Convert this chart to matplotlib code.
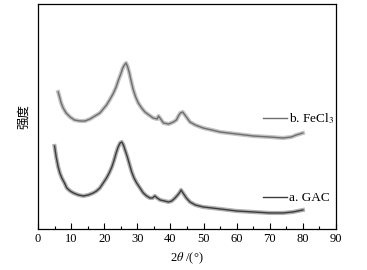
import matplotlib
matplotlib.use("Agg")
import matplotlib.pyplot as plt
from matplotlib.ticker import MultipleLocator

# intensities (arbitrary units, 0 = axis bottom)
two_theta_b = [6.1, 6.6, 7.0, 7.6, 8.5, 9.7, 11.0, 12.7, 14.2, 15.7, 17.2, 18.7, 19.7,
               20.7, 21.8, 22.8, 23.6, 24.3, 25.0, 25.6, 26.1, 26.6, 27.1, 27.6, 28.2,
               28.8, 29.5, 30.3, 31.3, 32.3, 33.5, 34.8, 36.0, 36.4, 37.9, 39.5, 40.9,
               41.8, 42.4, 43.0, 43.7, 44.6, 45.9, 47.5, 49.9, 52.5, 55.0, 57.5, 60.0,
               65.0, 70.0, 74.0, 76.5, 78.0, 80.0]
intensity_b = [137, 131, 126, 121, 116, 112, 109, 108, 108, 110, 113, 116, 120,
               124, 130, 136, 142, 149, 155, 161, 164, 166, 162, 156, 147,
               139, 132, 126, 121, 117, 114, 111, 110, 113, 106, 105, 107,
               109, 113, 116, 117, 113, 107, 104, 101, 99, 97, 96, 95,
               93, 92, 91, 92, 94, 96]

two_theta_a = [5.0, 5.5, 6.1, 6.6, 7.2, 8.0, 8.7, 9.7, 10.7, 12.2, 13.7, 15.2, 16.7,
               17.7, 18.7, 19.7, 20.7, 21.5, 22.3, 23.0, 23.6, 24.2, 24.8, 25.3, 25.8,
               26.4, 27.0, 27.6, 28.3, 29.0, 29.8, 30.8, 31.8, 32.8, 33.8, 34.6, 35.3,
               36.0, 36.9, 38.2, 39.4, 40.4, 41.4, 42.2, 42.9, 43.2, 43.8, 44.8, 45.9,
               47.5, 49.9, 52.5, 55.0, 57.5, 60.0, 65.0, 70.0, 74.0, 77.0, 80.0]
intensity_a = [83, 72, 62, 56, 51, 46, 41, 38, 36, 34, 33, 34, 36,
               38, 41, 46, 51, 56, 62, 69, 76, 82, 86, 87, 84,
               78, 72, 65, 57, 51, 46, 41, 36, 33, 31, 31, 33,
               31, 29, 28, 27, 28, 31, 34, 37, 39, 36, 31, 27,
               24, 22, 21, 20, 19, 18, 17, 16, 16, 17, 19]

labels = ["a. GAC", "b. FeCl$_3$"]
x_ticks = list(range(0, 91, 10))

plt.rcParams["font.family"] = ["Liberation Serif", "Noto Sans CJK SC"]
plt.rcParams["mathtext.fontset"] = "stix"

fig = plt.figure(figsize=(3.67, 2.70), dpi=100)
ax = fig.add_axes([0.1035, 0.152, 0.812, 0.833])

# light halo + core line to mimic the noisy traces
ax.plot(two_theta_b, intensity_b, color="#c4c4c4", lw=3.0, solid_joinstyle="round")
line_b, = ax.plot(two_theta_b, intensity_b, color="#6e6e6e", lw=1.0)
ax.plot(two_theta_a, intensity_a, color="#b0b0b0", lw=3.0, solid_joinstyle="round")
line_a, = ax.plot(two_theta_a, intensity_a, color="#3c3c3c", lw=1.0)

ax.set_xlim(0, 90)
ax.set_ylim(0, 225)
ax.set_xticks(x_ticks)
ax.xaxis.set_minor_locator(MultipleLocator(5))
ax.tick_params(axis="x", which="major", direction="in", length=4, width=0.8,
               labelsize=9, pad=3)
ax.tick_params(axis="x", which="minor", direction="in", length=2, width=0.8)
ax.set_yticks([])
for s in ax.spines.values():
    s.set_linewidth(0.9)

ax.set_xlabel(r"2$\theta$ /(°)", fontsize=9, labelpad=4)
ax.set_ylabel("强度", family="Noto Sans CJK SC", fontsize=9, labelpad=6)

leg_b = ax.legend([line_b], [labels[1]], loc="center left",
                  bbox_to_anchor=(0.755, 0.491), frameon=False, fontsize=9.5,
                  handlelength=1.8, handletextpad=0.2, borderpad=0, borderaxespad=0)
ax.add_artist(leg_b)
ax.legend([line_a], [labels[0]], loc="center left",
          bbox_to_anchor=(0.755, 0.137), frameon=False, fontsize=9.5,
          handlelength=1.8, handletextpad=0.2, borderpad=0, borderaxespad=0)

fig.savefig("out.png", dpi=100)
